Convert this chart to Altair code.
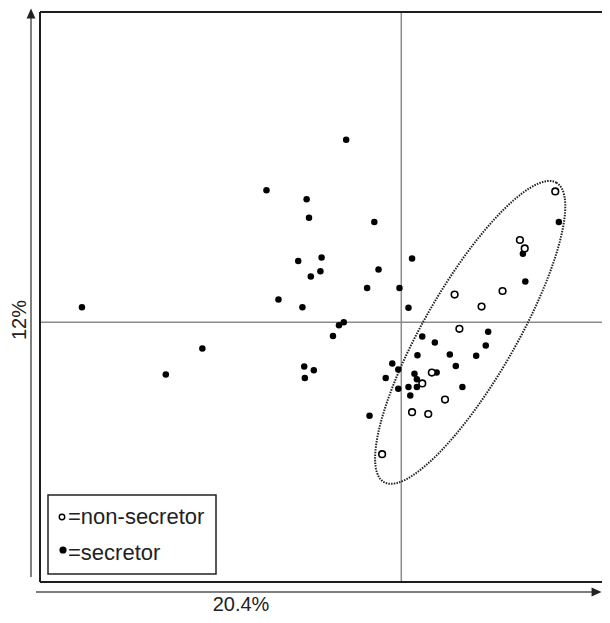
import altair as alt
import pandas as pd
import numpy as np

# ---- data (PC1 = 20.4 %, PC2 = 12 %) ----
sec_x = [-5.33, -3.93, -3.32, -2.25, -2.05, -1.72, -1.65, -1.62, -1.61, -1.58,
         -1.54, -1.51, -1.46, -1.35, -1.33, -1.14, -1.04, -0.96, -0.92, -0.57,
         -0.53, -0.45, -0.38, -0.26, -0.15, -0.05, -0.05, -0.03, 0.12, 0.12,
         0.15, 0.18, 0.22, 0.26, 0.26, 0.27, 0.35, 0.56, 0.59, 0.81,
         0.91, 1.02, 1.25, 1.41, 1.45, 2.03, 2.07, 2.63]
sec_y = [0.25, -0.87, -0.44, 2.20, 0.38, 1.02, 0.25, -0.74, -0.93, 2.05,
         1.74, 0.76, -0.80, 0.85, 1.08, -0.23, -0.05, 0.00, 3.04, 0.57,
         -1.56, 1.67, 0.88, -0.93, -0.69, -0.79, -1.11, 0.57, -1.08, 0.24,
         -1.22, 1.06, -0.86, -0.95, -1.08, -0.55, -0.24, -0.34, -0.84, -0.54,
         -0.73, -1.08, -0.56, -0.39, -0.16, 1.14, 0.68, 1.67]

non_x = [2.57, 1.98, 2.06, 1.69, 0.89, 1.34, 0.97, 0.51, 0.35, 0.73, 0.18, 0.45, -0.32]
non_y = [2.18, 1.37, 1.23, 0.52, 0.46, 0.26, -0.11, -0.84, -1.02, -1.29, -1.50, -1.53, -2.20]

x_domain = [-6.03, 3.35]
y_domain = [-4.33, 5.17]

# confidence ellipse around the non-secretor group
ell_center = (1.15, -0.17)
ell_axes = (2.88, 0.77)
ell_angle_deg = 60

axis_x_label = "20.4%"
axis_y_label = "12%"
legend_labels = ["=non-secretor", "=secretor"]

W, H = 562, 570
FONT = "Liberation Sans"

pts = pd.DataFrame({
    "x": sec_x + non_x,
    "y": sec_y + non_y,
    "group": ["secretor"] * len(sec_x) + ["non-secretor"] * len(non_x),
})

t = np.linspace(0, 2 * np.pi, 361)
th = np.deg2rad(ell_angle_deg)
a, b = ell_axes
ell = pd.DataFrame({
    "i": np.arange(len(t)),
    "x": ell_center[0] + a * np.cos(t) * np.cos(th) - b * np.sin(t) * np.sin(th),
    "y": ell_center[1] + a * np.cos(t) * np.sin(th) + b * np.sin(t) * np.cos(th),
})

one = pd.DataFrame({"k": [0]})

xs = alt.Scale(domain=x_domain, nice=False, zero=False)
ys = alt.Scale(domain=y_domain, nice=False, zero=False)

cross_v = alt.Chart(one).mark_rule(color="#8c8c8c", strokeWidth=1.5).encode(
    x=alt.X("xv:Q", scale=xs, axis=None)).transform_calculate(xv="0")
cross_h = alt.Chart(one).mark_rule(color="#8c8c8c", strokeWidth=1.5).encode(
    y=alt.Y("yv:Q", scale=ys, axis=None)).transform_calculate(yv="0")

frame_col = "#1e1e1e"
frame_top = alt.Chart(one).mark_rule(color=frame_col, strokeWidth=2).encode(
    x=alt.value(0), x2=alt.value(W), y=alt.value(0))
frame_left = alt.Chart(one).mark_rule(color=frame_col, strokeWidth=2).encode(
    x=alt.value(0), y=alt.value(0), y2=alt.value(H))
frame_bottom = alt.Chart(one).mark_rule(color=frame_col, strokeWidth=2).encode(
    x=alt.value(0), x2=alt.value(W), y=alt.value(H))

arrow_col = "#555555"
yarrow = alt.Chart(one).mark_rule(color=arrow_col, strokeWidth=1.5).encode(
    x=alt.value(-9), y=alt.value(4), y2=alt.value(565))
yhead = alt.Chart(one).mark_point(
    shape="M0,-1L0.8,0.8L-0.8,0.8Z", filled=True, color="#222", opacity=1, size=123
).encode(x=alt.value(-9), y=alt.value(2))
xarrow = alt.Chart(one).mark_rule(color=arrow_col, strokeWidth=1.5).encode(
    x=alt.value(-4), x2=alt.value(555), y=alt.value(580))
xhead = alt.Chart(one).mark_point(
    shape="M1,0L-0.8,0.8L-0.8,-0.8Z", filled=True, color="#222", opacity=1, size=123
).encode(x=alt.value(556), y=alt.value(580))

xlab = alt.Chart(one).mark_text(text=axis_x_label, font=FONT, fontSize=20, color="#222",
                                 baseline="middle", align="center").encode(
    x=alt.value(201), y=alt.value(593))
ylab = alt.Chart(one).mark_text(text=axis_y_label, font=FONT, fontSize=20, color="#222",
                                 baseline="middle", align="center", angle=270).encode(
    x=alt.value(-20), y=alt.value(308))

ellipse = alt.Chart(ell).mark_line(color="#222", strokeWidth=2, strokeDash=[1.5, 1.2]).encode(
    x=alt.X("x:Q", scale=xs, axis=None),
    y=alt.Y("y:Q", scale=ys, axis=None),
    order="i:Q")

filled = alt.Chart(pts).transform_filter(alt.datum.group == "secretor").mark_circle(
    color="black", opacity=1, size=42).encode(
    x=alt.X("x:Q", scale=xs, axis=None),
    y=alt.Y("y:Q", scale=ys, axis=None))
opened = alt.Chart(pts).transform_filter(alt.datum.group == "non-secretor").mark_point(
    filled=True, fill="white", stroke="black", strokeWidth=1.6, opacity=1, size=44).encode(
    x=alt.X("x:Q", scale=xs, axis=None),
    y=alt.Y("y:Q", scale=ys, axis=None))

leg_box = alt.Chart(one).mark_rect(fill="white", stroke="#222", strokeWidth=1.5).encode(
    x=alt.value(8), x2=alt.value(176), y=alt.value(483), y2=alt.value(562))
leg_open = alt.Chart(one).mark_point(filled=True, fill="white", stroke="black",
                                      strokeWidth=1.4, opacity=1, size=30).encode(
    x=alt.value(22), y=alt.value(505))
leg_fill = alt.Chart(one).mark_circle(color="black", opacity=1, size=52).encode(
    x=alt.value(23), y=alt.value(538))
leg_t1 = alt.Chart(one).mark_text(text=legend_labels[0], font=FONT, fontSize=22, color="#222",
                                   align="left", baseline="middle").encode(
    x=alt.value(28), y=alt.value(505))
leg_t2 = alt.Chart(one).mark_text(text=legend_labels[1], font=FONT, fontSize=22, color="#222",
                                   align="left", baseline="middle").encode(
    x=alt.value(28), y=alt.value(541))

chart = alt.layer(
    cross_v, cross_h, ellipse, filled, opened,
    frame_top, frame_left, frame_bottom,
    yarrow, yhead, xarrow, xhead, xlab, ylab,
    leg_box, leg_open, leg_fill, leg_t1, leg_t2,
).properties(
    width=W, height=H,
    padding={"left": 32, "top": 4, "right": 0, "bottom": 33},
    autosize=alt.AutoSizeParams(type="none"),
).configure_view(stroke="transparent", strokeWidth=0)

chart.save("out.html", embed_options={"renderer": "svg", "actions": False})
